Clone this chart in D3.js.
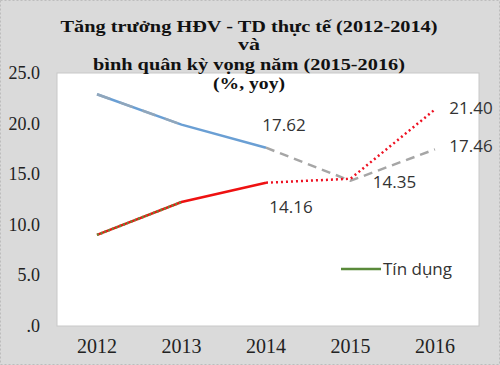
<!DOCTYPE html>
<html>
<head>
<meta charset="utf-8">
<script src="https://cdn.jsdelivr.net/npm/d3@7"></script>
<style>
  body { margin: 0; background: #dadada; }
  svg { display: block; }
</style>
</head>
<body>
<div id="chart"></div>
<script>
  // data
  const years = ["2012", "2013", "2014", "2015", "2016"]
  const hdvActual = [22.9, 19.9, 17.62]
  const hdvForecast = [17.62, 14.35, 17.46]
  const tdActual = [9.0, 12.25, 14.16]
  const tdForecast = [14.16, 14.55, 21.40]
  const yTicks = [0, 5, 10, 15, 20, 25]
  const titleLines = ["Tăng trưởng HĐV - TD thực tế (2012-2014)", "và", "bình quân kỳ vọng năm (2015-2016)", "(%, yoy)"]

  const W = 500, H = 365
  const plot = { left: 57, right: 479, top: 73, bottom: 326 }

  const svg = d3.select("#chart").append("svg").attr("width", W).attr("height", H)

  svg.append("rect").attr("x", 0.5).attr("y", 0.5).attr("width", W - 1).attr("height", H - 1)
    .attr("fill", "#dadada").attr("stroke", "#bdbdbd").attr("stroke-dasharray", "2,2")

  const x = d3.scalePoint().domain(years).range([97, 435])
  const y = d3.scaleLinear().domain([0, 25]).range([plot.bottom, plot.top])

  svg.append("rect")
    .attr("x", plot.left).attr("y", plot.top)
    .attr("width", plot.right - plot.left).attr("height", plot.bottom - plot.top)
    .attr("fill", "#fff").attr("stroke", "#c8c8c8")

  // y labels
  svg.selectAll(".ylab").data(yTicks).join("text")
    .attr("x", 40).attr("y", d => y(d) + 6)
    .attr("text-anchor", "end")
    .attr("font-family", "Liberation Serif, Times New Roman, serif").attr("font-size", 18)
    .attr("fill", "#222")
    .text(d => d === 0 ? ".0" : d.toFixed(1))

  // x labels
  svg.selectAll(".xlab").data(years).join("text")
    .attr("x", d => x(d)).attr("y", 353)
    .attr("text-anchor", "middle")
    .attr("font-family", "Liberation Serif, Times New Roman, serif").attr("font-size", 20)
    .attr("fill", "#222")
    .text(d => d)

  const line = d3.line().x(d => x(d[0])).y(d => y(d[1]))
  const pairs = (arr, start) => arr.map((v, i) => [years[start + i], v])

  // HĐV
  svg.append("path").datum(pairs(hdvActual, 0)).attr("d", line)
    .attr("fill", "none").attr("stroke", "#6a9fd4").attr("stroke-width", 2.5)
  svg.append("path").datum(pairs(hdvActual, 0).slice(0, 2)).attr("d", line)
    .attr("fill", "none").attr("stroke", "#9aa7b4").attr("stroke-width", 2.5)
    .attr("stroke-dasharray", "14,10").attr("opacity", 0.8)
  svg.append("path").datum(pairs(hdvForecast, 2)).attr("d", line)
    .attr("fill", "none").attr("stroke", "#a6a6a6").attr("stroke-width", 2.5)
    .attr("stroke-dasharray", "9,6")

  // TD
  svg.append("path").datum(pairs(tdActual, 0)).attr("d", line)
    .attr("fill", "none").attr("stroke", "#ee1111").attr("stroke-width", 2.5)
  svg.append("path").datum(pairs(tdActual, 0).slice(0, 2)).attr("d", line)
    .attr("fill", "none").attr("stroke", "#6a8a3a").attr("stroke-width", 2.5)
    .attr("stroke-dasharray", "2,2")
  svg.append("path").datum(pairs(tdForecast, 2)).attr("d", line)
    .attr("fill", "none").attr("stroke", "#ee1122").attr("stroke-width", 2.5)
    .attr("stroke-dasharray", "2,3")

  // value labels
  const valueLabels = [
    { text: hdvActual[2].toFixed(2), year: "2014", v: hdvActual[2], dx: 18, dy: -21 },
    { text: tdActual[2].toFixed(2), year: "2014", v: tdActual[2], dx: 25, dy: 26 },
    { text: hdvForecast[1].toFixed(2), year: "2015", v: hdvForecast[1], dx: 44, dy: 3 },
    { text: tdForecast[2].toFixed(2), year: "2016", v: tdForecast[2], dx: 36, dy: 0 },
    { text: hdvForecast[2].toFixed(2), year: "2016", v: hdvForecast[2], dx: 36, dy: -2 }
  ]
  svg.selectAll(".vlab").data(valueLabels).join("text")
    .attr("x", d => x(d.year) + d.dx).attr("y", d => y(d.v) + d.dy)
    .attr("text-anchor", "middle").attr("dominant-baseline", "middle")
    .attr("font-family", "Open Sans, sans-serif").attr("font-size", 17)
    .attr("fill", "#333")
    .text(d => d.text)

  // legend
  svg.append("line").attr("x1", 341).attr("x2", 381).attr("y1", 269).attr("y2", 269)
    .attr("stroke", "#5a8a3a").attr("stroke-width", 2.5)
  svg.append("text").attr("x", 383).attr("y", 275)
    .attr("font-family", "Open Sans, sans-serif").attr("font-size", 17).attr("fill", "#333")
    .text("Tín dụng")

  // title
  const titleY = [32, 50, 70, 89]
  const titleW = [377, 22, 312, 72]
  svg.selectAll(".title").data(titleLines).join("text")
    .attr("x", 249).attr("y", (d, i) => titleY[i])
    .attr("text-anchor", "middle")
    .attr("font-family", "Liberation Serif, Times New Roman, serif")
    .attr("font-weight", "bold").attr("font-size", 17).attr("fill", "#111")
    .attr("textLength", (d, i) => titleW[i]).attr("lengthAdjust", "spacingAndGlyphs")
    .text(d => d)
</script>
</body>
</html>
